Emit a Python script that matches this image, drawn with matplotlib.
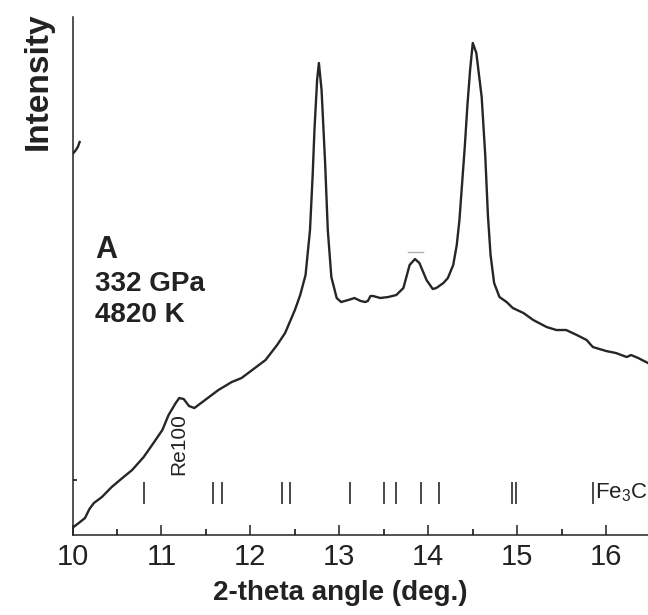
import matplotlib.pyplot as plt

plt.rcParams['font.family'] = ['Liberation Sans', 'DejaVu Sans']

# diffraction pattern (2-theta, intensity in arbitrary units)
two_theta = [10.00, 10.01, 10.07, 10.14, 10.19, 10.24, 10.33, 10.44, 10.56, 10.67,
             10.80, 10.91, 11.01, 11.08, 11.16, 11.20, 11.25, 11.31, 11.37, 11.49,
             11.64, 11.79, 11.90, 12.05, 12.17, 12.30, 12.39, 12.50, 12.56, 12.62,
             12.67, 12.70, 12.72, 12.75, 12.77, 12.80, 12.84, 12.87, 12.91, 12.97,
             13.02, 13.10, 13.17, 13.24, 13.29, 13.32, 13.35, 13.38, 13.46, 13.55,
             13.64, 13.72, 13.79, 13.85, 13.90, 13.98, 14.05, 14.09, 14.17, 14.22,
             14.28, 14.32, 14.35, 14.41, 14.44, 14.47, 14.50, 14.54, 14.60, 14.64,
             14.67, 14.70, 14.74, 14.80, 14.88, 14.95, 15.07, 15.18, 15.33, 15.44,
             15.55, 15.67, 15.78, 15.85, 16.00, 16.11, 16.23, 16.28, 16.36, 16.47]
intensity = [6, 8, 12, 17, 26, 32, 38, 48, 57, 65,
             78, 92, 105, 120, 132, 137, 136, 129, 127, 135,
             145, 153, 157, 167, 175, 190, 202, 225, 240, 260,
             305, 360, 405, 455, 472, 445, 372, 305, 258, 237,
             233, 235, 237, 234, 233, 234, 239, 239, 237, 238,
             240, 247, 270, 276, 272, 255, 246, 247, 252, 257,
             270, 290, 315, 388, 430, 465, 492, 482, 438, 380,
             320, 280, 252, 238, 233, 227, 222, 215, 208, 205,
             205, 200, 195, 188, 184, 182, 178, 180, 177, 172]

# fragment of another pattern at the upper left
frag_x = [10.00, 10.03, 10.06, 10.08]
frag_y = [381, 384, 388, 393]

# Fe3C reflection positions
fe3c_pos = [10.80, 11.58, 11.68, 12.36, 12.45, 13.12, 13.50, 13.64,
            13.92, 14.12, 14.94, 14.99, 15.85]

fig = plt.figure(figsize=(6.48, 6.15), dpi=100)
ax = fig.add_axes([0.1119, 0.130, 0.8881, 0.8424])

ax.plot(two_theta, intensity, color='#262626', lw=1.7)
ax.plot(frag_x, frag_y, color='#262626', lw=1.7)
ax.plot([13.77, 13.94], [283, 283], color='#b0b0b0', lw=1)

ax.vlines(fe3c_pos, 31, 53, color='#2a2a2a', lw=1.2)
ax.text(15.87, 42, 'Fe$_\\mathregular{3}$C', fontsize=16, va='center', ha='left',
        color='#222222')
ax.text(11.20, 91, 'Re100', rotation=90, fontsize=15, ha='center', va='center',
        color='#222222')

ax.text(10.25, 277, 'A', fontsize=22, fontweight='bold', va='baseline', color='#222222')
ax.text(10.25, 244, '332 GPa', fontsize=20, fontweight='bold', va='baseline', color='#222222')
ax.text(10.25, 213, '4820 K', fontsize=20, fontweight='bold', va='baseline', color='#222222')

ax.set_xlim(10, 16.47)
ax.set_ylim(0, 518)
ax.set_xticks(range(10, 17))
ax.set_xticks([10.5 + i for i in range(6)], minor=True)
ax.set_yticks([55])
ax.set_yticklabels([])
ax.tick_params(axis='x', which='major', direction='in', length=7, width=1.1,
               labelsize=21, pad=6, colors='#222222')
ax.tick_params(axis='x', which='minor', direction='in', length=4, width=1.1)
ax.tick_params(axis='y', direction='in', length=3, width=1.1)

for s in ['top', 'right']:
    ax.spines[s].set_visible(False)
for s in ['left', 'bottom']:
    ax.spines[s].set_linewidth(1.1)
    ax.spines[s].set_color('#222222')

fig.text(340 / 648, 1 - 593 / 615, '2-theta angle (deg.)', fontsize=20,
         fontweight='bold', ha='center', va='center', color='#222222')
fig.text(38 / 648, 1 - 81 / 615, 'Intensity', fontsize=24, fontweight='bold',
         rotation=90, ha='center', va='center', color='#222222')

fig.savefig('out.png', dpi=100)
